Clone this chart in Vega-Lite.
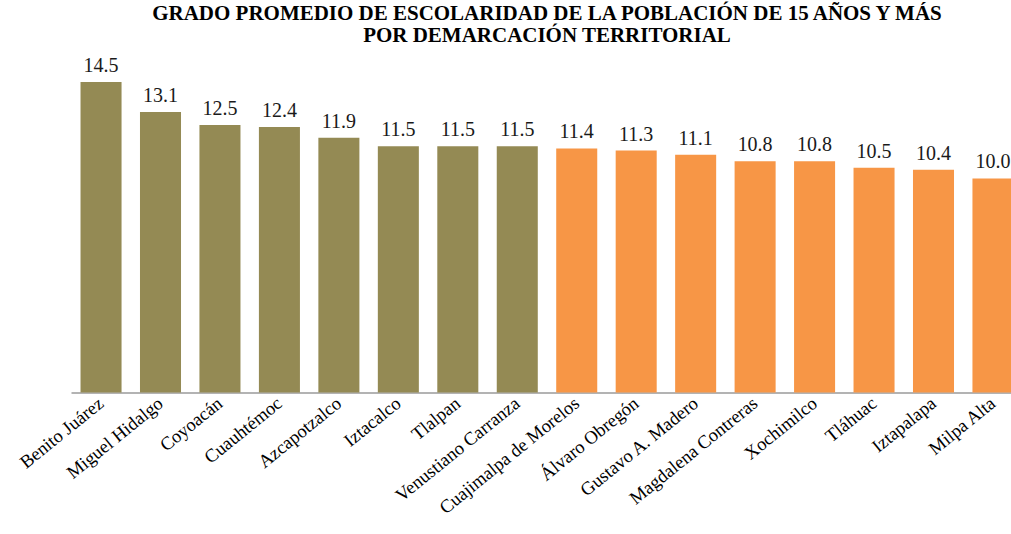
{
  "$schema": "https://vega.github.io/schema/vega-lite/v6.json",
  "width": 952,
  "height": 342.4,
  "autosize": "none",
  "padding": {"left": 71, "top": 50, "right": 0, "bottom": 142},
  "background": "white",
  "title": {
    "text": ["GRADO PROMEDIO DE ESCOLARIDAD DE LA POBLACIÓN DE 15 AÑOS Y MÁS", "POR DEMARCACIÓN  TERRITORIAL"],
    "font": "Liberation Serif",
    "fontSize": 21,
    "fontWeight": "bold",
    "color": "#000000",
    "anchor": "middle",
    "offset": 4,
    "lineHeight": 22
  },
  "data": {
    "values": [
      {"demarcacion": "Benito Juárez", "valor": 14.5, "grupo": "A"},
      {"demarcacion": "Miguel Hidalgo", "valor": 13.1, "grupo": "A"},
      {"demarcacion": "Coyoacán", "valor": 12.5, "grupo": "A"},
      {"demarcacion": "Cuauhtémoc", "valor": 12.4, "grupo": "A"},
      {"demarcacion": "Azcapotzalco", "valor": 11.9, "grupo": "A"},
      {"demarcacion": "Iztacalco", "valor": 11.5, "grupo": "A"},
      {"demarcacion": "Tlalpan", "valor": 11.5, "grupo": "A"},
      {"demarcacion": "Venustiano Carranza", "valor": 11.5, "grupo": "A"},
      {"demarcacion": "Cuajimalpa de Morelos", "valor": 11.4, "grupo": "B"},
      {"demarcacion": "Álvaro Obregón", "valor": 11.3, "grupo": "B"},
      {"demarcacion": "Gustavo A. Madero", "valor": 11.1, "grupo": "B"},
      {"demarcacion": "Magdalena Contreras", "valor": 10.8, "grupo": "B"},
      {"demarcacion": "Xochimilco", "valor": 10.8, "grupo": "B"},
      {"demarcacion": "Tláhuac", "valor": 10.5, "grupo": "B"},
      {"demarcacion": "Iztapalapa", "valor": 10.4, "grupo": "B"},
      {"demarcacion": "Milpa Alta", "valor": 10.0, "grupo": "B"}
    ]
  },
  "encoding": {
    "x": {
      "field": "demarcacion",
      "type": "nominal",
      "sort": null,
      "scale": {"paddingInner": 0.31, "paddingOuter": 0.16},
      "axis": {
        "title": null,
        "labelAngle": -39,
        "labelAlign": "right",
        "labelBaseline": "middle",
        "labelFont": "Liberation Serif",
        "labelFontSize": 18.5,
        "labelColor": "#000000",
        "labelPadding": 8,
        "ticks": false,
        "domainColor": "#9a9a9a",
        "domainWidth": 1.5,
        "labelOverlap": false,
        "labelLimit": 300
      }
    },
    "y": {
      "field": "valor",
      "type": "quantitative",
      "scale": {"domain": [0, 16]},
      "axis": null
    }
  },
  "layer": [
    {
      "mark": {"type": "bar"},
      "encoding": {
        "color": {
          "field": "grupo",
          "type": "nominal",
          "scale": {"domain": ["A", "B"], "range": ["#948A54", "#F79646"]},
          "legend": null
        }
      }
    },
    {
      "mark": {"type": "text", "baseline": "bottom", "dy": -6, "font": "Liberation Serif", "fontSize": 20, "color": "#1a1a1a"},
      "encoding": {
        "text": {"field": "valor", "type": "quantitative", "format": ".1f"}
      }
    }
  ],
  "config": {"view": {"stroke": null}}
}
